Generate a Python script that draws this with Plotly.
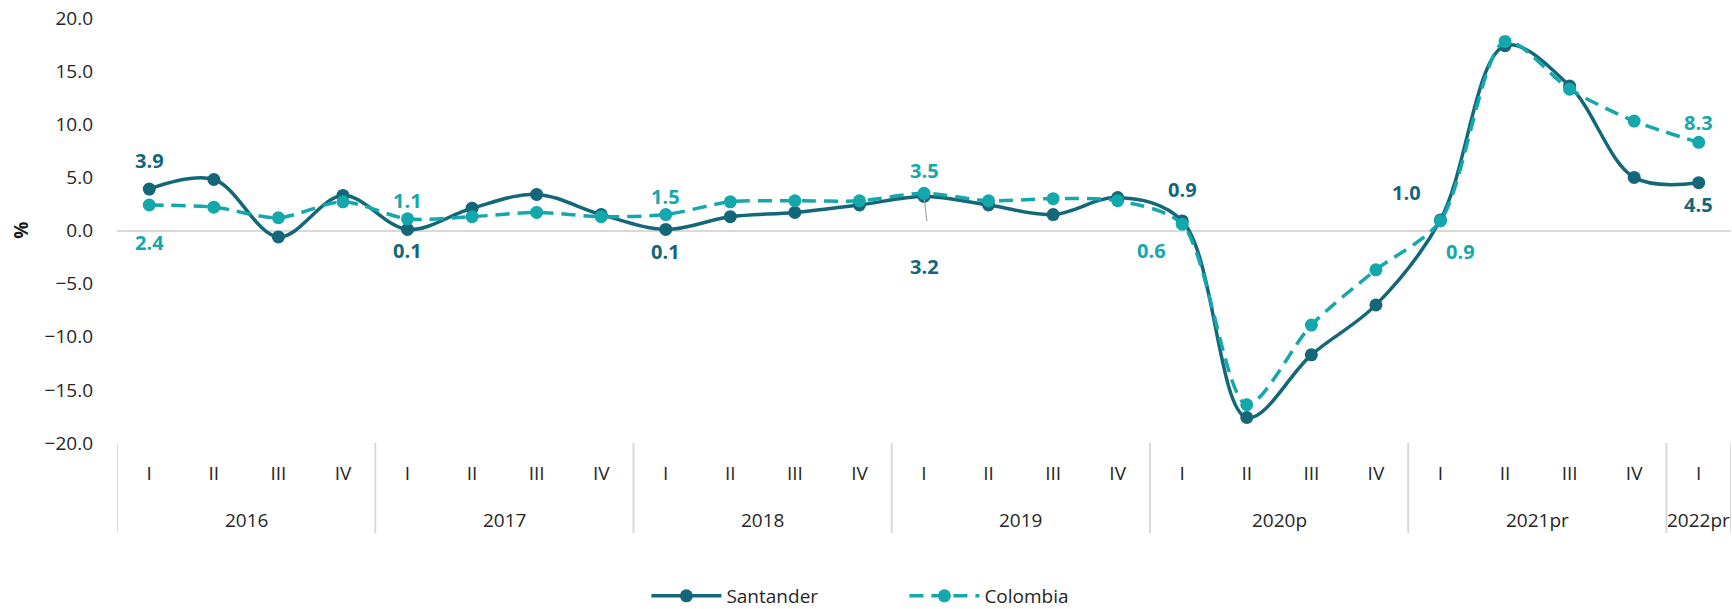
import plotly.graph_objects as go

years = ["2016"] * 4 + ["2017"] * 4 + ["2018"] * 4 + ["2019"] * 4 + ["2020p"] * 4 + ["2021pr"] * 4 + ["2022pr"]
quarters = ["I", "II", "III", "IV"] * 6 + ["I"]

santander = [3.9, 4.8, -0.6, 3.3, 0.1, 2.1, 3.4, 1.5, 0.1, 1.3, 1.7, 2.4, 3.2, 2.4, 1.5, 3.1,
             0.9, -17.6, -11.7, -7.0, 1.0, 17.4, 13.6, 5.0, 4.5]
colombia = [2.4, 2.2, 1.2, 2.7, 1.1, 1.3, 1.7, 1.3, 1.5, 2.7, 2.8, 2.8, 3.5, 2.8, 3.0, 2.8,
            0.6, -16.4, -8.9, -3.7, 0.9, 17.8, 13.3, 10.3, 8.3]

# labelled points: (index, xshift, yshift)
sant_labels = [(0, 0, 29), (4, 0, -21), (8, 0, -22), (12, 0, -70), (16, 0, 31), (20, -34, 27), (24, 0, -22)]
col_labels = [(0, 0, -37), (4, 0, 18), (8, 0, 18), (12, 0, 23), (16, -31, -26), (20, 20, -31), (24, 0, 20)]

C_SANT = "#136778"
C_COL = "#14A8AC"
FONT = "Open Sans"
TXT = "#262626"

idx = list(range(len(quarters)))

fig = go.Figure()
fig.add_trace(go.Scatter(
    x=idx, y=santander, name="Santander", mode="lines+markers",
    line=dict(color=C_SANT, width=3.5, shape="spline", smoothing=1.0),
    marker=dict(color=C_SANT, size=13),
))
fig.add_trace(go.Scatter(
    x=idx, y=colombia, name="Colombia", mode="lines+markers",
    line=dict(color=C_COL, width=3.5, dash="14px,8px", shape="spline", smoothing=0.8),
    marker=dict(color=C_COL, size=13),
))

annotations = []
for i, dx, dy in sant_labels:
    annotations.append(dict(
        x=i, y=santander[i], xref="x", yref="y", text=f"<b>{santander[i]:.1f}</b>",
        showarrow=False, xshift=dx, yshift=dy,
        font=dict(family=FONT, size=20, color=C_SANT),
    ))
for i, dx, dy in col_labels:
    annotations.append(dict(
        x=i, y=colombia[i], xref="x", yref="y", text=f"<b>{colombia[i]:.1f}</b>",
        showarrow=False, xshift=dx, yshift=dy,
        font=dict(family=FONT, size=20, color=C_COL),
    ))
# leader line for the 2019 I Santander label
annotations.append(dict(
    x=12, y=santander[12], xref="x", yref="y", text="", showarrow=True,
    ax=3, ay=26, arrowhead=0, arrowwidth=1.2, arrowcolor="#a6a6a6", standoff=3,
))
# y axis title
annotations.append(dict(
    x=-0.06, y=0.5, xref="paper", yref="paper", text="<b>%</b>", textangle=-90,
    xanchor="center", yanchor="middle",
    showarrow=False, font=dict(family=FONT, size=19, color="#1a1a1a"),
))

# year group labels and dividers
groups = []
for i, yname in enumerate(years):
    if not groups or groups[-1][0] != yname:
        groups.append([yname, i, i])
    else:
        groups[-1][2] = i

shapes = []
for yname, start, end in groups:
    annotations.append(dict(
        x=(start + end) / 2, y=-0.181, xref="x", yref="paper", text=yname,
        showarrow=False, yanchor="middle", font=dict(family=FONT, size=19, color=TXT),
    ))
    shapes.append(dict(type="line", xref="x", yref="paper", x0=start - 0.5, x1=start - 0.5,
                       y0=0, y1=-0.212, line=dict(color="#d9d9d9", width=2)))
shapes.append(dict(type="line", xref="x", yref="paper", x0=groups[-1][2] + 0.5, x1=groups[-1][2] + 0.5,
                   y0=0, y1=-0.212, line=dict(color="#d9d9d9", width=2)))

fig.update_layout(
    width=1732, height=609,
    margin=dict(l=117, r=1, t=18, b=166, autoexpand=False),
    paper_bgcolor="white", plot_bgcolor="white",
    font=dict(family=FONT, size=19, color=TXT),
    showlegend=True,
    legend=dict(orientation="h", x=0.328, xanchor="left", y=-0.36, yanchor="middle",
                font=dict(family=FONT, size=19, color=TXT), itemwidth=70,
                entrywidth=173, entrywidthmode="pixels"),
    xaxis=dict(range=[-0.5, len(quarters) - 0.5], tickmode="array", tickvals=idx, ticktext=quarters,
               showgrid=False, showline=False, zeroline=False, ticks="", ticklabelstandoff=17,
               tickfont=dict(family=FONT, size=19, color=TXT)),
    yaxis=dict(range=[-20, 20], dtick=5, tickformat=".1f", showgrid=False, zeroline=True,
               zerolinecolor="#d9d9d9", zerolinewidth=2, showline=False, ticks="",
               ticklabelstandoff=23, tickfont=dict(family=FONT, size=19, color=TXT)),
    annotations=annotations,
    shapes=shapes,
)

fig.write_html("out.html", config={"displayModeBar": False},
               post_script="document.body.style.margin='0';")
